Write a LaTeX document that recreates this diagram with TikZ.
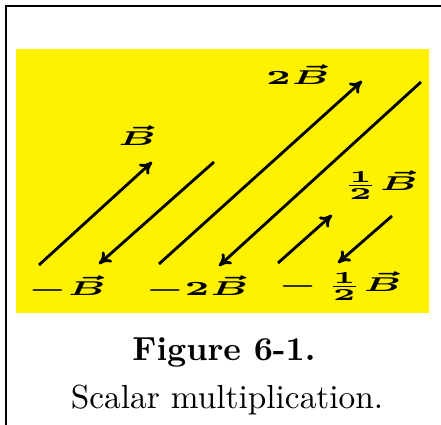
\documentclass[tikz,border=0pt]{standalone}
\usetikzlibrary{arrows.meta}
\begin{document}
\begin{tikzpicture}[x=0.3pt,y=-0.3pt,vec/.style={line width=0.85pt,-{To[length=3.6pt,width=4.2pt]}},lbl/.style={font=\fontsize{6.5}{8}\selectfont\boldmath,xscale=1.8,inner sep=0pt}]
\useasboundingbox (0,0) rectangle (441,425);
\draw[line width=0.6pt] (6.5,425) -- (6.5,6.5) -- (441,6.5);
\fill[yellow] (16,49) rectangle (429,313);
\coordinate (b0) at (39,265); \coordinate (b1) at (152,162);
\coordinate (mb0) at (214,162); \coordinate (mb1) at (99,264);
\coordinate (tb0) at (159,264); \coordinate (tb1) at (362,81);
\coordinate (mtb0) at (421,82); \coordinate (mtb1) at (219,266);
\coordinate (hb0) at (278,263); \coordinate (hb1) at (332,215);
\coordinate (mhb0) at (392,216); \coordinate (mhb1) at (338,263);
\draw[vec] (b0)--(b1);
\draw[vec] (mb0)--(mb1);
\draw[vec] (tb0)--(tb1);
\draw[vec] (mtb0)--(mtb1);
\draw[vec] (hb0)--(hb1);
\draw[vec] (mhb0)--(mhb1);
\node[lbl] (lb) at (137,136) {$\vec{B}$};
\node[lbl] (ltb) at (298,75) {$2\vec{B}$};
\node[lbl] (lhb) at (380,185) {$\frac{1}{2}\vec{B}$};
\node[lbl] (lmb) at (67,288) {$-\vec{B}$};
\node[lbl] (lmtb) at (197,288) {$-2\vec{B}$};
\node[lbl] (lmhb) at (340,286) {$-\,\frac{1}{2}\vec{B}$};
\node[font=\bfseries] (fig) at (224,352) {Figure 6-1.};
\node (cap) at (227,400) {Scalar multiplication.};
\end{tikzpicture}
\end{document}
